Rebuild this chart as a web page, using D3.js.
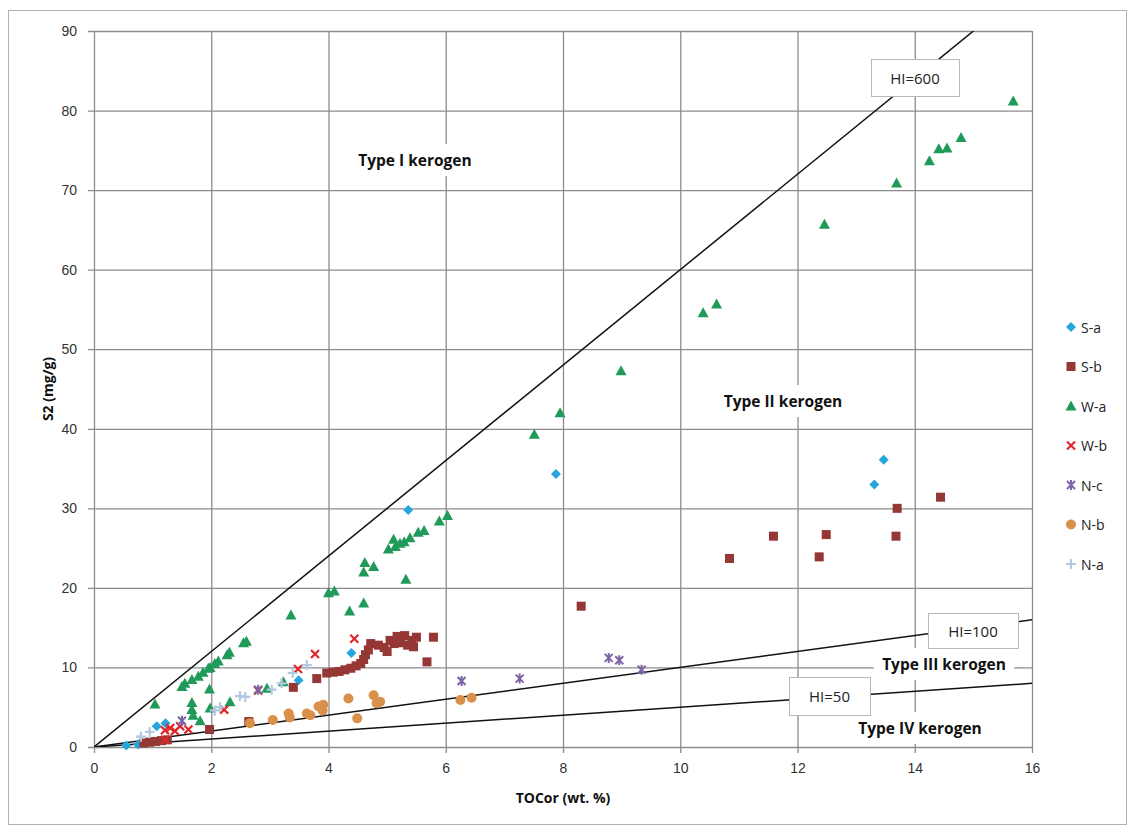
<!DOCTYPE html>
<html>
<head>
<meta charset="utf-8">
<script src="https://cdn.jsdelivr.net/npm/d3@7"></script>
<style>
  body { margin: 0; background: #fff; }
  svg { font-family: "Open Sans", "DejaVu Sans", sans-serif; }
  .tick text { font-size: 14px; fill: #333; }
  .lbl { font-weight: bold; font-size: 15.5px; fill: #111; }
</style>
</head>
<body>
<div id="chart"></div>
<script>
// values: [TOCor, S2]
const seriesNames = ['S-a', 'S-b', 'W-a', 'W-b', 'N-c', 'N-b', 'N-a'];

const sa = [[0.55,0.2],[0.75,0.3],[0.9,0.6],[1.07,2.6],[1.22,3.0],[3.49,8.4],[4.39,11.8],[5.36,29.8],[7.88,34.3],[13.31,33.0],[13.47,36.1]];
const sb = [[0.85,0.5],[0.95,0.6],[1.05,0.7],[1.15,0.8],[1.25,0.9],[1.97,2.2],[2.64,3.2],[3.40,7.5],[3.80,8.6],[3.97,9.3],[4.08,9.4],[4.18,9.5],[4.28,9.7],[4.38,9.9],[4.47,10.2],[4.55,10.5],[4.60,11.0],[4.63,11.6],[4.68,12.2],[4.72,13.0],[4.85,12.8],[4.95,12.5],[5.0,12.0],[5.05,13.4],[5.12,13.0],[5.17,13.9],[5.23,13.1],[5.3,14.0],[5.35,12.8],[5.42,13.4],[5.45,12.6],[5.5,13.8],[5.68,10.7],[5.79,13.8],[8.31,17.7],[10.84,23.7],[11.59,26.5],[12.37,23.9],[12.49,26.7],[13.68,26.5],[13.70,30.0],[14.44,31.4]];
const wa = [[1.04,5.4],[1.50,7.6],[1.55,8.0],[1.67,8.5],[1.78,8.9],[1.86,9.4],[1.95,9.9],[1.98,10.0],[2.06,10.5],[2.12,10.8],[2.27,11.6],[2.31,11.9],[2.55,13.1],[2.60,13.3],[3.36,16.6],[1.67,5.6],[1.67,4.7],[1.69,4.0],[1.81,3.3],[1.97,7.3],[1.98,4.9],[2.32,5.7],[2.95,7.4],[3.23,8.2],[4.00,19.4],[4.10,19.6],[4.36,17.1],[4.60,18.1],[4.60,22.0],[4.62,23.2],[4.77,22.7],[5.02,24.9],[5.11,26.1],[5.14,25.2],[5.22,25.6],[5.29,25.8],[5.32,21.1],[5.39,26.3],[5.53,27.0],[5.63,27.2],[5.89,28.4],[6.03,29.1],[7.51,39.3],[7.95,42.0],[8.99,47.3],[10.39,54.6],[10.62,55.7],[12.46,65.7],[13.69,70.9],[14.25,73.7],[14.41,75.2],[14.55,75.3],[14.79,76.6],[15.68,81.2]];
const wb = [[1.21,0.9],[1.21,2.1],[1.30,2.4],[1.38,2.0],[1.47,2.6],[1.61,2.2],[2.22,4.7],[2.80,7.1],[3.48,9.8],[3.77,11.7],[4.44,13.6]];
const nc = [[1.5,3.3],[2.8,7.2],[6.27,8.3],[7.26,8.6],[8.78,11.2],[8.96,10.9],[9.34,9.7]];
const nb = [[2.66,3.0],[3.05,3.4],[3.32,4.2],[3.34,3.7],[3.63,4.2],[3.69,4.0],[3.83,5.1],[3.91,5.3],[3.90,4.6],[4.34,6.1],[4.49,3.6],[4.77,6.5],[4.82,5.5],[4.88,5.7],[6.25,5.9],[6.44,6.2]];
const na = [[0.8,1.3],[0.95,1.9],[2.06,4.6],[2.15,5.0],[2.49,6.4],[2.58,6.3],[3.03,7.2],[3.20,8.0],[3.39,9.3],[3.63,10.3]];

const hiValues = [600, 100, 50];
const xTicks = [0, 2, 4, 6, 8, 10, 12, 14, 16];
const yTicks = [0, 10, 20, 30, 40, 50, 60, 70, 80, 90];

const W = 1130, H = 828;
const margin = { left: 94, right: 98, top: 31, bottom: 81 };

const svg = d3.select('#chart').append('svg')
    .attr('width', W)
    .attr('height', H);

svg.append('rect')
    .attr('x', 8.5).attr('y', 10.5)
    .attr('width', W - 12).attr('height', H - 14)
    .attr('fill', '#fff')
    .attr('stroke', '#b0b0b0');

const x = d3.scaleLinear().domain([0, 16]).range([margin.left, W - margin.right]);
const y = d3.scaleLinear().domain([0, 90]).range([H - margin.bottom, margin.top]);

// grid + axes
svg.append('g')
    .attr('transform', `translate(0,${H - margin.bottom})`)
    .call(d3.axisBottom(x).tickValues(xTicks).tickSize(-(y(0) - y(90))).tickSizeOuter(0).tickPadding(16))
    .call(g => g.select('.domain').remove())
    .call(g => g.selectAll('.tick line').attr('stroke', '#8c8c8c').attr('stroke-width', 1.3).attr('y1', 6));

svg.append('g')
    .attr('transform', `translate(${margin.left},0)`)
    .call(d3.axisLeft(y).tickValues(yTicks).tickSize(-(x(16) - x(0))).tickSizeOuter(0).tickPadding(17))
    .call(g => g.select('.domain').remove())
    .call(g => g.selectAll('.tick line').attr('stroke', '#8c8c8c').attr('stroke-width', 1.3).attr('x1', -6));

// HI lines
svg.append('clipPath').attr('id', 'plot')
    .append('rect')
    .attr('x', x(0)).attr('y', y(90))
    .attr('width', x(16) - x(0)).attr('height', y(0) - y(90));

svg.append('g').attr('clip-path', 'url(#plot)')
    .selectAll('line')
    .data(hiValues)
    .join('line')
    .attr('x1', x(0)).attr('y1', y(0))
    .attr('x2', d => x(16)).attr('y2', d => y(16 * d / 100))
    .attr('stroke', '#111')
    .attr('stroke-width', 1.5);

// region labels with white backing
const regions = [
    { text: 'Type I kerogen', cx: 415, cy: 160 },
    { text: 'Type II kerogen', cx: 783, cy: 401 },
    { text: 'Type III kerogen', cx: 944, cy: 664 },
    { text: 'Type IV kerogen', cx: 920, cy: 728 }
];
const regG = svg.append('g');
regions.forEach(r => {
    const t = regG.append('text')
        .attr('class', 'lbl')
        .attr('x', r.cx).attr('y', r.cy)
        .attr('text-anchor', 'middle')
        .attr('dominant-baseline', 'central')
        .text(r.text);
    const bb = t.node().getBBox();
    regG.insert('rect', 'text')
        .attr('x', bb.x - 8).attr('y', bb.y - 5)
        .attr('width', bb.width + 16).attr('height', bb.height + 10)
        .attr('fill', '#fff');
});

// HI boxes
const hiBoxes = [
    { text: 'HI=600', x0: 871, y0: 59, w: 88, h: 37 },
    { text: 'HI=100', x0: 928, y0: 613, w: 90, h: 35 },
    { text: 'HI=50', x0: 789, y0: 677, w: 81, h: 38 }
];
hiBoxes.forEach(b => {
    svg.append('rect')
        .attr('x', b.x0 + 0.5).attr('y', b.y0 + 0.5)
        .attr('width', b.w).attr('height', b.h)
        .attr('fill', '#fff')
        .attr('stroke', '#b8b8b8');
    svg.append('text')
        .attr('x', b.x0 + b.w / 2).attr('y', b.y0 + b.h / 2)
        .attr('text-anchor', 'middle')
        .attr('dominant-baseline', 'central')
        .attr('font-size', 15)
        .attr('fill', '#222')
        .text(b.text);
});

// markers
const colors = ['#27a6dc', '#953735', '#1f9a58', '#e0262a', '#7d64a6', '#d9904a', '#b3c8e2'];
const series = [sa, sb, wa, wb, nc, nb, na];

function drawMarker(g, i, px, py) {
    const c = colors[i];
    if (i === 0) {
        g.append('path').attr('d', `M${px},${py - 5}L${px + 5},${py}L${px},${py + 5}L${px - 5},${py}Z`).attr('fill', c);
    } else if (i === 1) {
        g.append('rect').attr('x', px - 4.5).attr('y', py - 4.5).attr('width', 9).attr('height', 9).attr('fill', c);
    } else if (i === 2) {
        g.append('path').attr('d', `M${px},${py - 5.5}L${px + 5.5},${py + 4.5}L${px - 5.5},${py + 4.5}Z`).attr('fill', c);
    } else if (i === 3) {
        g.append('path').attr('d', `M${px - 4},${py - 4}L${px + 4},${py + 4}M${px + 4},${py - 4}L${px - 4},${py + 4}`)
            .attr('stroke', c).attr('stroke-width', 2.2);
    } else if (i === 4) {
        g.append('path').attr('d', `M${px - 4},${py - 4}L${px + 4},${py + 4}M${px + 4},${py - 4}L${px - 4},${py + 4}M${px},${py - 5}L${px},${py + 5}`)
            .attr('stroke', c).attr('stroke-width', 2);
    } else if (i === 5) {
        g.append('circle').attr('cx', px).attr('cy', py).attr('r', 5).attr('fill', c);
    } else {
        g.append('path').attr('d', `M${px - 5},${py}L${px + 5},${py}M${px},${py - 5}L${px},${py + 5}`)
            .attr('stroke', c).attr('stroke-width', 2.2);
    }
}

const markG = svg.append('g');
series.forEach((pts, i) => {
    const g = markG.append('g').attr('class', 'series-' + i);
    pts.forEach(p => drawMarker(g, i, x(p[0]), y(p[1])));
});

// legend
const legG = svg.append('g');
seriesNames.forEach((name, i) => {
    const ly = 327 + i * 39.5;
    drawMarker(legG, i, 1071, ly);
    legG.append('text')
        .attr('x', 1081).attr('y', ly)
        .attr('dominant-baseline', 'central')
        .attr('font-size', 14)
        .attr('fill', '#222')
        .text(name);
});

// axis titles
svg.append('text')
    .attr('class', 'lbl')
    .style('font-size', '14px')
    .attr('x', (x(0) + x(16)) / 2).attr('y', 803)
    .attr('text-anchor', 'middle')
    .text('TOCor (wt. %)');

svg.append('text')
    .attr('class', 'lbl')
    .style('font-size', '14px')
    .attr('transform', `translate(53,${(y(0) + y(90)) / 2}) rotate(-90)`)
    .attr('text-anchor', 'middle')
    .text('S2 (mg/g)');
</script>
</body>
</html>
